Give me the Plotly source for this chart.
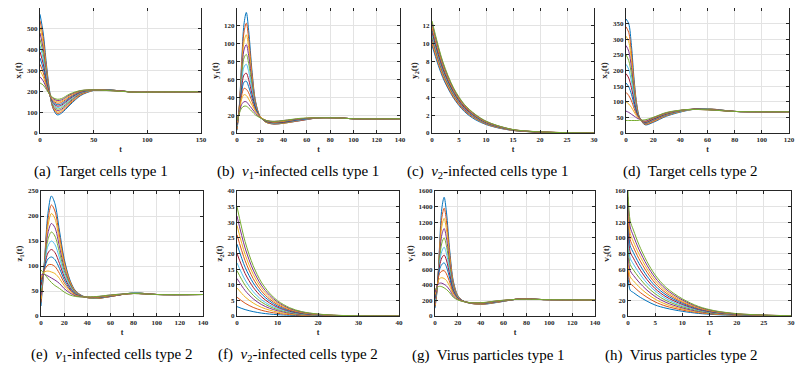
import plotly.graph_objects as go

# MATLAB default colour order, 12 curves per panel
colores = ['#0072BD', '#D95319', '#EDB120', '#7E2F8E', '#77AC30', '#4DBEEE', '#A2142F']

# (a) Target cells type 1
t_a = [0, 3, 6, 9, 12, 16, 20, 28, 38, 50, 62, 75, 90, 110, 150]
x1 = [
    [570, 480, 330, 200, 120, 87, 95, 135, 180, 204, 208, 202, 195, 197, 198],
    [540, 455, 315, 195, 122, 94, 101, 140, 183, 205, 208, 202, 195, 197, 198],
    [510, 430, 300, 192, 126, 101, 108, 145, 186, 205, 207, 202, 195, 197, 198],
    [480, 405, 285, 190, 130, 108, 114, 150, 189, 206, 207, 202, 195, 197, 198],
    [450, 380, 272, 188, 135, 115, 121, 155, 192, 206, 207, 202, 195, 197, 198],
    [420, 355, 260, 186, 140, 122, 128, 160, 194, 206, 207, 202, 196, 197, 198],
    [390, 332, 250, 185, 146, 129, 134, 165, 196, 207, 206, 202, 196, 197, 198],
    [360, 310, 240, 184, 151, 136, 140, 170, 198, 207, 206, 201, 196, 197, 198],
    [330, 290, 230, 184, 156, 143, 147, 175, 200, 207, 205, 201, 196, 197, 198],
    [300, 270, 222, 184, 161, 150, 153, 180, 202, 207, 205, 201, 196, 197, 198],
    [270, 250, 215, 185, 166, 156, 159, 184, 203, 207, 204, 201, 196, 197, 198],
    [240, 230, 208, 186, 170, 162, 165, 188, 204, 207, 204, 200, 196, 197, 198],
]

# (b) v1-infected cells type 1
t_b = [0, 2, 4, 6, 8, 10, 13, 16, 20, 25, 32, 40, 55, 70, 85, 100, 140]
y1 = [
    [3, 30, 80, 122, 135, 115, 68, 35, 18, 12, 10, 11, 14, 17, 17, 16, 16],
    [4, 30, 75, 113, 123, 106, 64, 34, 18, 12, 10, 11, 14, 17, 17, 16, 16],
    [5, 29, 70, 102, 110, 96, 60, 32, 18, 12, 10.5, 11, 14.5, 17, 17, 16, 16],
    [6, 29, 66, 93, 99, 87, 56, 31, 18, 12.5, 10.5, 11.5, 14.5, 17, 17, 16, 16],
    [7, 28, 61, 84, 88, 78, 52, 30, 18, 12.5, 11, 11.5, 15, 17, 17, 16, 16],
    [8, 27, 56, 74, 77, 69, 48, 29, 18, 13, 11, 12, 15, 17, 17, 16, 16],
    [9, 26, 51, 65, 67, 60, 43, 28, 18, 13, 11.5, 12, 15.5, 17, 17, 16, 16],
    [10, 25, 46, 57, 58, 52, 39, 27, 18, 13.5, 12, 12.5, 15.5, 17, 17, 16, 16],
    [11, 25, 42, 50, 49, 45, 35, 25, 18, 14, 12, 13, 16, 17, 17, 16, 16],
    [12, 24, 38, 43, 42, 38, 31, 24, 18, 14, 12.5, 13.5, 16, 17, 17, 16, 16],
    [13, 23, 32, 35, 35, 32, 27, 22, 17, 14, 13, 14, 16, 17, 17, 16, 16],
    [14, 22, 28, 30, 30, 28, 24, 20, 17, 14, 13, 14, 16.5, 17, 17, 16, 16],
]

# (c) v2-infected cells type 1
t_c = [0, 2, 4, 6, 8, 10, 12, 15, 18, 22, 26, 30]
y2 = [
    [9.8, 6.2, 3.9, 2.4, 1.5, 0.95, 0.6, 0.28, 0.14, 0.05, 0.02, 0],
    [10.05, 6.4, 4.0, 2.5, 1.6, 1.0, 0.63, 0.29, 0.15, 0.06, 0.02, 0],
    [10.3, 6.6, 4.15, 2.6, 1.65, 1.03, 0.66, 0.3, 0.15, 0.06, 0.02, 0],
    [10.55, 6.75, 4.25, 2.65, 1.7, 1.06, 0.69, 0.31, 0.16, 0.06, 0.02, 0],
    [10.8, 6.9, 4.35, 2.75, 1.75, 1.1, 0.71, 0.32, 0.16, 0.07, 0.02, 0],
    [11.05, 7.05, 4.45, 2.8, 1.8, 1.13, 0.73, 0.33, 0.17, 0.07, 0.02, 0],
    [11.3, 7.2, 4.55, 2.85, 1.85, 1.16, 0.75, 0.34, 0.17, 0.07, 0.03, 0],
    [11.55, 7.4, 4.65, 2.95, 1.9, 1.2, 0.77, 0.35, 0.18, 0.07, 0.03, 0],
    [11.8, 7.55, 4.75, 3.0, 1.95, 1.23, 0.8, 0.36, 0.18, 0.08, 0.03, 0],
    [12.05, 7.7, 4.85, 3.1, 2.0, 1.26, 0.82, 0.37, 0.19, 0.08, 0.03, 0],
    [12.3, 7.85, 4.95, 3.15, 2.05, 1.3, 0.84, 0.38, 0.19, 0.08, 0.03, 0],
    [12.55, 8.0, 5.05, 3.2, 2.1, 1.33, 0.86, 0.39, 0.2, 0.08, 0.03, 0],
]

# (d) Target cells type 2
t_d = [0, 2, 4, 6, 8, 10, 14, 20, 30, 45, 55, 65, 80, 100, 120]
x2 = [
    [365, 350, 280, 170, 90, 50, 26, 34, 54, 72, 78, 76, 69, 68, 68],
    [340, 322, 255, 158, 86, 49, 28, 36, 56, 73, 78, 76, 69, 68, 68],
    [310, 292, 232, 146, 82, 49, 30, 38, 57, 73, 77, 75, 69, 68, 68],
    [280, 262, 210, 135, 78, 48, 31, 40, 58, 74, 77, 75, 69, 68, 68],
    [250, 232, 188, 124, 74, 48, 32, 42, 59, 74, 77, 75, 69, 68, 68],
    [220, 204, 166, 112, 70, 47, 33, 43, 60, 74, 77, 75, 69, 68, 68],
    [190, 176, 145, 101, 66, 47, 34, 44, 61, 75, 76, 74, 69, 68, 68],
    [160, 148, 124, 90, 62, 46, 35, 46, 62, 75, 76, 74, 69, 68, 68],
    [130, 120, 103, 78, 58, 46, 36, 47, 63, 75, 76, 74, 69, 68, 68],
    [100, 93, 82, 67, 53, 45, 37, 48, 64, 75, 75, 73, 69, 68, 68],
    [70, 66, 60, 54, 48, 44, 38, 49, 65, 75, 75, 73, 69, 68, 68],
    [40, 40, 40, 40, 40, 41, 42, 50, 66, 75, 75, 73, 69, 68, 68],
]

# (e) v1-infected cells type 2
t_e = [0, 3, 6, 9, 12, 16, 20, 25, 30, 38, 48, 60, 80, 100, 140]
z1 = [
    [20, 110, 205, 240, 225, 170, 115, 72, 50, 38, 35, 39, 46, 43, 43],
    [27, 108, 192, 222, 210, 160, 110, 70, 49, 38, 35, 39, 46, 43, 43],
    [34, 106, 180, 205, 195, 150, 104, 68, 48, 38, 35.5, 39, 46, 43, 43],
    [41, 104, 166, 185, 177, 138, 97, 65, 47, 38, 36, 39, 46, 43, 43],
    [48, 102, 153, 168, 160, 127, 91, 63, 46, 38, 36, 39.5, 46, 43, 43],
    [55, 100, 140, 150, 143, 116, 85, 60, 45, 38, 36.5, 40, 46, 43, 43],
    [61, 97, 126, 133, 127, 105, 79, 57, 44, 38, 37, 40, 45, 43, 43],
    [67, 95, 114, 118, 113, 95, 73, 54, 43, 38, 37, 40.5, 45, 43, 43],
    [72, 92, 102, 103, 99, 85, 67, 52, 42, 38, 37.5, 41, 45, 43, 43],
    [77, 88, 90, 88, 85, 75, 61, 49, 41, 38, 38, 41, 45, 43, 43],
    [82, 83, 80, 76, 72, 65, 55, 46, 40, 38, 38.5, 42, 45, 43, 43],
    [92, 84, 75, 67, 61, 55, 48, 42, 39, 38, 39, 42, 45, 43, 43],
]

# (f) v2-infected cells type 2
t_f = [0, 2, 4, 6, 8, 10, 13, 16, 20, 25, 30, 40]
z2 = [
    [3, 2.05, 1.4, 0.93, 0.63, 0.42, 0.23, 0.12, 0.05, 0.02, 0.01, 0],
    [6, 4.1, 2.75, 1.85, 1.25, 0.85, 0.45, 0.24, 0.11, 0.04, 0.01, 0],
    [9, 6.1, 4.15, 2.8, 1.9, 1.25, 0.68, 0.36, 0.16, 0.05, 0.02, 0],
    [12, 8.15, 5.5, 3.7, 2.5, 1.7, 0.9, 0.48, 0.22, 0.07, 0.02, 0],
    [14.5, 9.85, 6.65, 4.5, 3.05, 2.05, 1.1, 0.58, 0.26, 0.09, 0.03, 0],
    [17, 11.55, 7.8, 5.25, 3.55, 2.4, 1.3, 0.68, 0.3, 0.1, 0.03, 0],
    [20, 13.6, 9.2, 6.2, 4.2, 2.8, 1.5, 0.8, 0.36, 0.12, 0.04, 0],
    [23, 15.6, 10.6, 7.15, 4.85, 3.2, 1.75, 0.92, 0.41, 0.14, 0.05, 0],
    [26, 17.7, 11.95, 8.05, 5.45, 3.65, 1.95, 1.05, 0.47, 0.16, 0.05, 0],
    [29, 19.7, 13.35, 9.0, 6.1, 4.05, 2.2, 1.15, 0.52, 0.17, 0.06, 0],
    [32, 21.75, 14.7, 9.9, 6.7, 4.5, 2.4, 1.3, 0.58, 0.19, 0.06, 0],
    [35, 23.8, 16.1, 10.85, 7.35, 4.9, 2.65, 1.4, 0.63, 0.21, 0.07, 0],
]

# (g) Virus particles type 1
t_g = [0, 2, 4, 6, 8, 10, 13, 16, 20, 25, 32, 42, 55, 75, 95, 140]
v1 = [
    [100, 350, 900, 1380, 1520, 1330, 820, 450, 260, 190, 160, 150, 175, 220, 210, 205],
    [120, 360, 860, 1260, 1380, 1220, 770, 430, 255, 190, 160, 152, 177, 220, 210, 205],
    [140, 370, 820, 1150, 1250, 1110, 720, 410, 250, 190, 161, 154, 178, 220, 210, 205],
    [160, 375, 775, 1040, 1120, 1000, 665, 390, 245, 190, 162, 156, 180, 219, 210, 205],
    [180, 380, 730, 935, 1000, 900, 615, 370, 240, 190, 163, 158, 182, 219, 210, 205],
    [200, 385, 685, 830, 880, 800, 565, 350, 235, 190, 164, 160, 184, 218, 210, 205],
    [220, 390, 640, 745, 780, 715, 520, 335, 230, 190, 165, 162, 186, 218, 210, 205],
    [240, 392, 595, 660, 680, 630, 475, 315, 225, 188, 166, 164, 188, 217, 210, 205],
    [260, 395, 545, 575, 580, 540, 425, 295, 220, 187, 167, 166, 190, 217, 210, 205],
    [280, 395, 480, 490, 480, 455, 375, 275, 215, 186, 168, 168, 192, 216, 210, 205],
    [300, 390, 420, 420, 405, 385, 330, 255, 210, 185, 169, 170, 194, 215, 210, 205],
    [330, 370, 380, 375, 360, 340, 295, 240, 205, 184, 170, 172, 196, 214, 210, 205],
]

# (h) Virus particles type 2
t_h = [0, 0.4, 1, 2, 3.5, 5, 7, 10, 13, 16, 20, 25, 30]
v2 = [
    [55, 33, 30, 25, 19, 14, 10, 6, 3.3, 1.8, 0.8, 0.3, 0.1],
    [65, 42, 38, 31.5, 24, 18, 12.6, 7.6, 4.2, 2.3, 1.05, 0.4, 0.1],
    [75, 50, 45, 37.5, 28.5, 21.5, 15, 9, 5, 2.75, 1.25, 0.5, 0.15],
    [85, 58, 52, 43.5, 33, 25, 17.4, 10.4, 5.8, 3.2, 1.45, 0.6, 0.2],
    [95, 66, 59, 49.5, 37.5, 28.5, 19.8, 11.9, 6.6, 3.6, 1.65, 0.65, 0.2],
    [105, 74, 66.5, 55.5, 42, 32, 22.2, 13.3, 7.4, 4.1, 1.85, 0.75, 0.2],
    [115, 82, 74, 61.5, 46.5, 35, 24.6, 14.8, 8.2, 4.5, 2.05, 0.8, 0.25],
    [125, 90, 81, 67.5, 51, 38.5, 27, 16.2, 9, 4.95, 2.25, 0.9, 0.25],
    [135, 98, 88, 73.5, 56, 42, 29.4, 17.6, 9.8, 5.4, 2.45, 1, 0.3],
    [145, 106, 95, 79.5, 60.5, 45.5, 31.8, 19, 10.6, 5.8, 2.65, 1.05, 0.3],
    [152, 114, 102.5, 85.5, 65, 49, 34.2, 20.5, 11.4, 6.3, 2.85, 1.15, 0.35],
    [160, 122, 110, 91.5, 69.5, 52.5, 36.6, 22, 12.2, 6.7, 3.05, 1.2, 0.35],
]

# panel: tiempo, curvas, etiqueta y, rango x, paso x, rango y, paso y, leyenda
paneles = [
    (t_a, x1, 'x<sub>1</sub>(t)', 150, 50, 600, 100, '(a)  Target cells type 1'),
    (t_b, y1, 'y<sub>1</sub>(t)', 140, 20, 140, 20, '(b)  <i>v</i><sub>1</sub>-infected cells type 1'),
    (t_c, y2, 'y<sub>2</sub>(t)', 30, 5, 14, 2, '(c)  <i>v</i><sub>2</sub>-infected cells type 1'),
    (t_d, x2, 'x<sub>2</sub>(t)', 120, 20, 400, 50, '(d)  Target cells type 2'),
    (t_e, z1, 'z<sub>1</sub>(t)', 140, 20, 250, 50, '(e)  <i>v</i><sub>1</sub>-infected cells type 2'),
    (t_f, z2, 'z<sub>2</sub>(t)', 40, 10, 40, 5, '(f)  <i>v</i><sub>2</sub>-infected cells type 2'),
    (t_g, v1, 'v<sub>1</sub>(t)', 140, 20, 1600, 200, '(g)  Virus particles type 1'),
    (t_h, v2, 'v<sub>2</sub>(t)', 30, 5, 160, 20, '(h)  Virus particles type 2'),
]

# the page body has an 8 px margin, so the figure is drawn 8 px smaller
# and every box is given in window pixels minus that margin
borde = 8
W, H = 809 - borde, 370 - borde
# pixel boxes of each axes (window coords): left, right, top, bottom
cajas = [
    (40, 201, 8, 133), (237, 400, 8, 133), (432, 594, 8, 133), (626, 789, 8, 133),
    (41, 203, 191, 316), (237, 399, 191, 316), (435, 595, 191, 316), (628, 791, 191, 316),
]
# caption centres (window coords)
centros = [(101, 172), (298, 172), (487, 172), (690, 172),
           (111, 355), (298, 355), (488, 355), (681, 355)]

fuente = 'Liberation Serif, Times New Roman, serif'
fig = go.Figure()
layout = {}
anotaciones = []

for i, (t, curvas, ylab, xmax, dx, ymax, dy, leyenda) in enumerate(paneles):
    n = '' if i == 0 else str(i + 1)
    for k, c in enumerate(curvas):
        fig.add_trace(go.Scatter(
            x=t, y=c, mode='lines', xaxis='x' + n, yaxis='y' + n,
            line=dict(color=colores[k % 7], width=1, shape='spline', smoothing=0.9),
            showlegend=False, hoverinfo='skip'))
    l, r, tp, b = [v - borde for v in cajas[i]]
    eje = dict(showgrid=True, gridcolor='#e3e3e3', gridwidth=1, showline=True,
               linecolor='#262626', linewidth=1, mirror='ticks', ticks='inside',
               ticklen=3, tickcolor='#262626', zeroline=False, automargin=False,
               tickfont=dict(family=fuente, size=7, color='#262626', weight='bold'))
    layout['xaxis' + n] = dict(eje, domain=[l / W, r / W], anchor='y' + n,
                               range=[0, xmax], dtick=dx, tick0=0,
                               title=dict(text='t', standoff=2,
                                          font=dict(family=fuente, size=8, color='#262626', weight='bold')))
    layout['yaxis' + n] = dict(eje, domain=[1 - b / H, 1 - tp / H], anchor='x' + n,
                               range=[0, ymax], dtick=dy, tick0=0,
                               title=dict(text=ylab, standoff=3,
                                          font=dict(family=fuente, size=9, color='#262626', weight='bold')))
    cx, cy = centros[i]
    anotaciones.append(dict(
        text=leyenda, xref='paper', yref='paper', x=(cx - borde) / W,
        y=1 - (cy - borde) / H, xanchor='center', yanchor='middle', showarrow=False,
        font=dict(family=fuente, size=15, color='black')))

fig.update_layout(**layout)
fig.update_layout(width=W, height=H, margin=dict(l=0, r=0, t=0, b=0),
                  paper_bgcolor='white', plot_bgcolor='white',
                  annotations=anotaciones)
fig.write_html('out.html')
